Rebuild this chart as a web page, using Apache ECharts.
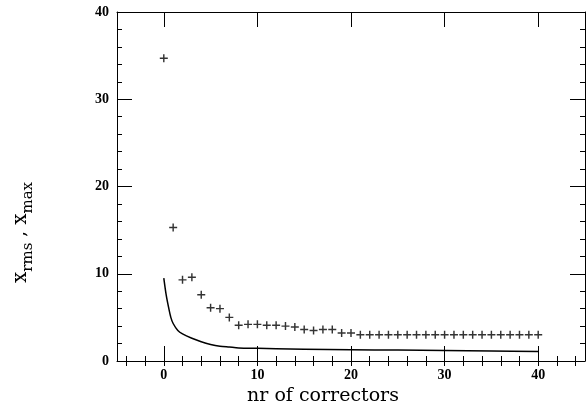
<!DOCTYPE html>
<html>
<head>
<meta charset="utf-8">
<script src="https://cdn.jsdelivr.net/npm/echarts@6/dist/echarts.min.js"></script>
<style>html,body{margin:0;padding:0;background:#fff}#c{width:586px;height:411px}</style>
</head>
<body>
<div id="c"></div>
<script>
// number of correctors for the "+" markers (x_max)
const markerX = [0,1,2,3,4,5,6,7,8,9,10,11,12,13,14,15,16,17,18,19,20,21,22,23,24,25,26,27,28,29,30,31,32,33,34,35,36,37,38,39,40];
const xMaxValues = [34.7,15.3,9.3,9.6,7.6,6.1,6.0,5.0,4.1,4.2,4.2,4.1,4.1,4.0,3.9,3.6,3.5,3.6,3.6,3.2,3.2,3.0,3.0,3.0,3.0,3.0,3.0,3.0,3.0,3.0,3.0,3.0,3.0,3.0,3.0,3.0,3.0,3.0,3.0,3.0,3.0];
// solid curve (x_rms)
const curveX = [0,0.25,0.5,0.75,1,1.5,2,3,4,5,6,7,8,10,12,15,20,25,30,35,40];
const xRmsValues = [9.5,7.6,6.2,5.0,4.3,3.5,3.1,2.6,2.2,1.9,1.7,1.6,1.5,1.45,1.4,1.35,1.3,1.25,1.2,1.15,1.1];
// tick labels
const xMajorTicks = [0,10,20,30,40];
const xMinorTicks = [-4,-2,0,2,4,6,8,10,12,14,16,18,20,22,24,26,28,30,32,34,36,38,40,42,44];
const yTickLabels = [0,10,20,30,40];

const chart = echarts.init(document.getElementById('c'), null, {renderer:'canvas'});
const serif = 'Liberation Serif';
const lbl = {color:'#000', fontFamily: serif, fontWeight:'bold', fontSize:14};
const line = {show:true, onZero:false, lineStyle:{color:'#000', width:1}};
function xAx(pos, major, withLabel){
  return {
    type:'value', position:pos, min:-5, max:45, gridIndex:0,
    axisLine: major ? line : {show:false},
    splitLine:{show:false},
    axisTick:{show:true, inside:true, length: major?15:5, lineStyle:{color:'#000', width:1},
      customValues: major ? xMajorTicks : xMinorTicks},
    axisLabel: withLabel ? Object.assign({show:true, margin:7, customValues:xMajorTicks}, lbl) : {show:false},
    name: withLabel ? 'nr of correctors' : '',
    nameLocation:'middle', nameGap:26,
    nameTextStyle:{color:'#000', fontFamily:'DejaVu Serif', fontSize:19, padding:[0,56,0,0]}
  };
}
function yAx(pos, withLabel){
  return {
    type:'value', position:pos, min:0, max:40, interval:10, gridIndex:0,
    axisLine: line, splitLine:{show:false},
    axisTick:{show:true, inside:true, length:15, lineStyle:{color:'#000', width:1}},
    minorTick:{show:true, splitNumber:5, length:5, lineStyle:{color:'#000', width:1}},
    minorSplitLine:{show:false},
    axisLabel: withLabel ? Object.assign({show:true, margin:8, formatter: v => yTickLabels.includes(v) ? String(v) : ''}, lbl) : {show:false},
    name: withLabel ? '{a|x}{s|rms} {c|,} {a|x}{s|max}' : '',
    nameLocation:'middle', nameGap:84,
    nameTextStyle:{color:'#000', fontFamily:'DejaVu Serif', fontSize:19, padding:[0,92,0,0],
      rich:{
        a:{fontFamily:'DejaVu Serif', fontSize:20, color:'#000', lineHeight:22, verticalAlign:'top'},
        s:{fontFamily:'DejaVu Serif', fontSize:15, color:'#000', lineHeight:15, padding:[13,0,0,0]},
        c:{fontFamily:'DejaVu Serif', fontSize:18, color:'#000', lineHeight:22, verticalAlign:'top'}
      }}
  };
}
const plus = 'path://M-0.9,-5 L0.9,-5 L0.9,-0.9 L5,-0.9 L5,0.9 L0.9,0.9 L0.9,5 L-0.9,5 L-0.9,0.9 L-5,0.9 L-5,-0.9 L-0.9,-0.9 Z';
chart.setOption({
  animation:false,
  backgroundColor:'#fff',
  grid:{left:116, right:1, top:12, bottom:45},
  xAxis:[xAx('bottom',true,true), xAx('bottom',false,false), xAx('top',true,false), xAx('top',false,false)],
  yAxis:[yAx('left',true), yAx('right',false)],
  series:[
    {type:'line', xAxisIndex:0, yAxisIndex:0, data: curveX.map((x,i)=>[x, xRmsValues[i]]),
     showSymbol:false, symbol:'none', smooth:0.3, lineStyle:{color:'#000', width:1.5}},
    {type:'scatter', xAxisIndex:0, yAxisIndex:0, data: markerX.map((x,i)=>[x, xMaxValues[i]]),
     symbol: plus, symbolSize:8, itemStyle:{color:'#000'}}
  ]
});
</script>
</body>
</html>
